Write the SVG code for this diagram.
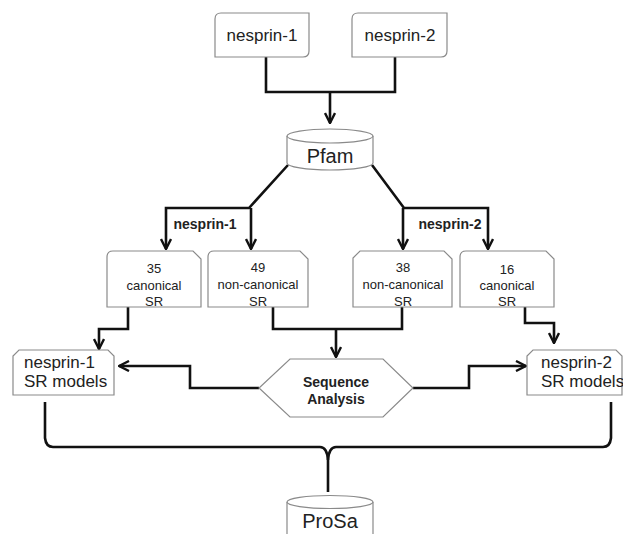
<svg xmlns="http://www.w3.org/2000/svg" width="623" height="534" viewBox="0 0 623 534">
<defs>
<style>
.box{fill:#fff;stroke:#8a8a8a;stroke-width:1.2}
.con{fill:none;stroke:#111;stroke-width:2.6;stroke-linejoin:miter}
.t{font-family:"Liberation Sans",Arial,sans-serif;fill:#222}
.b{font-weight:bold}
</style>
<marker id="ah" viewBox="0 0 12 12" refX="11" refY="6" markerWidth="12" markerHeight="12" markerUnits="userSpaceOnUse" orient="auto">
<path d="M1,1 L11,6 L1,11" fill="none" stroke="#111" stroke-width="2.4"/>
</marker>
</defs>
<rect width="623" height="534" fill="#fff"/>

<g id="connectors">
<path class="con" d="M266 57 V92 H395 V57"/>
<path class="con" d="M330 92 V123" marker-end="url(#ah)"/>
<path class="con" d="M288 165 L249 208 H166 V249" marker-end="url(#ah)"/>
<path class="con" d="M251 208 V249" marker-end="url(#ah)"/>
<path class="con" d="M372 165 L404 208 H488 V249" marker-end="url(#ah)"/>
<path class="con" d="M403 208 V249" marker-end="url(#ah)"/>
<path class="con" d="M128 307 V329 H99 V349" marker-end="url(#ah)"/>
<path class="con" d="M273 307 V329 H402 V307"/>
<path class="con" d="M336 329 V357" marker-end="url(#ah)"/>
<path class="con" d="M525 307 V323 H554 V343" marker-end="url(#ah)"/>
<path class="con" d="M259 388 H190 V366 H119" marker-end="url(#ah)"/>
<path class="con" d="M413 388 H469 V366 H526" marker-end="url(#ah)"/>
<path class="con" d="M45 402 V438 Q46 447 53 447 H320 Q327 447 328 460 V492"/>
<path class="con" d="M611 402 V438 Q610 447 603 447 H336 Q329 447 328 460"/>
</g>

<g id="n_nesprin1">
<path class="box" d="M221 13 H309 V51 Q309 57 303 57 H215 V19 Q215 13 221 13 Z"/>
<text class="t" x="262" y="41" font-size="17" text-anchor="middle">nesprin-1</text>
</g>
<g id="n_nesprin2">
<path class="box" d="M358 13 H447 V51 Q447 57 441 57 H352 V19 Q352 13 358 13 Z"/>
<text class="t" x="400" y="41" font-size="17" text-anchor="middle">nesprin-2</text>
</g>

<g id="n_pfam">
<path class="box" d="M287 136 V163 A43 7 0 0 0 373 163 V136"/>
<ellipse class="box" cx="330" cy="136" rx="43" ry="7"/>
<text class="t" x="330" y="163" font-size="20" text-anchor="middle">Pfam</text>
</g>

<g id="lbl_nesprin1">
<text class="t b" x="205" y="229" font-size="14" text-anchor="middle">nesprin-1</text>
</g>
<g id="lbl_nesprin2">
<text class="t b" x="450" y="229" font-size="14" text-anchor="middle">nesprin-2</text>
</g>

<g id="n_35">
<path class="box" d="M113 251 H193 L201 259 V307 H107 V257 Q107 251 113 251 Z"/>
<text class="t" font-size="13" text-anchor="middle"><tspan x="154" y="273">35</tspan><tspan x="154" y="290">canonical</tspan><tspan x="154" y="306">SR</tspan></text>
</g>
<g id="n_49">
<path class="box" d="M214 251 H300 L308 259 V307 H208 V257 Q208 251 214 251 Z"/>
<text class="t" font-size="13" text-anchor="middle"><tspan x="258" y="272">49</tspan><tspan x="258" y="289">non-canonical</tspan><tspan x="258" y="306">SR</tspan></text>
</g>
<g id="n_38">
<path class="box" d="M360 251 H444 L452 259 V307 H353 V258 Z"/>
<text class="t" font-size="13" text-anchor="middle"><tspan x="403" y="272">38</tspan><tspan x="403" y="289">non-canonical</tspan><tspan x="403" y="306">SR</tspan></text>
</g>
<g id="n_16">
<path class="box" d="M466 251 H546 L554 259 V307 H460 V257 Q460 251 466 251 Z"/>
<text class="t" font-size="13" text-anchor="middle"><tspan x="507" y="274">16</tspan><tspan x="507" y="290">canonical</tspan><tspan x="507" y="306">SR</tspan></text>
</g>

<g id="n_sr1">
<path class="box" d="M19 350 H108 L114 356 V395 H13 V356 Z"/>
<text class="t" font-size="17"><tspan x="24" y="368">nesprin-1</tspan><tspan x="24" y="387">SR models</tspan></text>
</g>
<g id="n_sr2">
<path class="box" d="M533 350 H616 L622 356 V395 H527 V356 Z"/>
<text class="t" font-size="17"><tspan x="541" y="368">nesprin-2</tspan><tspan x="541" y="387">SR models</tspan></text>
</g>

<g id="n_seq">
<path class="box" d="M290 359 H383 L413 388 L383 417 H290 L259 388 Z"/>
<text class="t b" font-size="14" text-anchor="middle"><tspan x="336" y="387">Sequence</tspan><tspan x="336" y="404">Analysis</tspan></text>
</g>

<g id="n_prosa">
<path class="box" d="M287 502 V534 M373 502 V534"/>
<ellipse class="box" cx="330" cy="502" rx="43" ry="6.5"/>
<text class="t" x="330" y="528" font-size="20" text-anchor="middle">ProSa</text>
</g>
</svg>
